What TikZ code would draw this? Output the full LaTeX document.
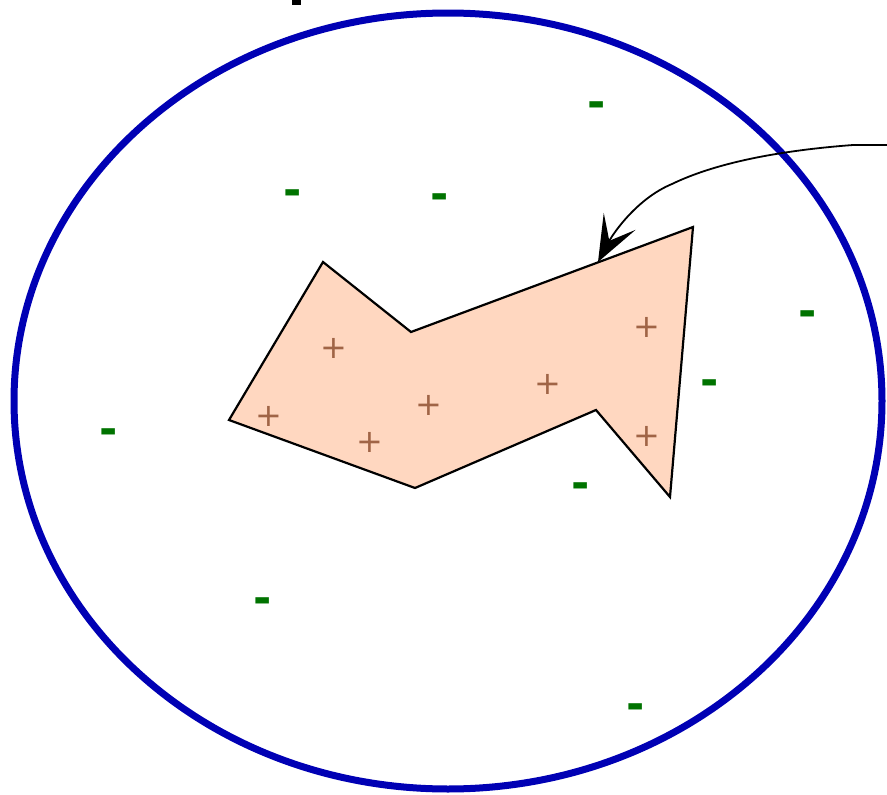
\documentclass[tikz,border=0pt]{standalone}
\usepackage{fontspec}
\setmainfont{DejaVu Sans}
\usetikzlibrary{arrows.meta}
\definecolor{ringblue}{RGB}{0,0,180}
\definecolor{peach}{RGB}{255,215,192}
\definecolor{plusbrown}{RGB}{160,100,70}
\definecolor{minusgreen}{RGB}{0,115,0}
\tikzset{
  plussign/.style={text=plusbrown,font=\fontsize{32}{32}\selectfont,inner sep=0pt},
  minussign/.style={text=minusgreen,font=\bfseries\fontsize{44}{44}\selectfont,inner sep=0pt,yshift=-3pt},
}
\begin{document}
\begin{tikzpicture}[x=1pt,y=-1pt]
\useasboundingbox (0,0) rectangle (887,795);
% cut-off fragment at top
\fill (292,0) rectangle (301,5);
% ring
\draw[ringblue,line width=7pt] (448,401) ellipse [x radius=434, y radius=388];
% region
\draw[fill=peach,line width=2.2pt,line join=miter] (229,420) -- (323,262) -- (411,332) -- (693,227) -- (670,497) -- (596,410) -- (415,488) -- cycle;
% plus signs
\foreach \x/\y [count=\i] in {334/348,269/416,370/442,429/405,548/384,647/327,647/436}
  \node[plussign] (p\i) at (\x,\y) {+};
% minus signs
\foreach \x/\y [count=\i] in {597/107,293/195,440/199,808/316,710/385,109/434,581/488,263/603,636/709}
  \node[minussign] (m\i) at (\x,\y) {-};
% arrow
\coordinate (start) at (887,145);
\coordinate (bend) at (853,145);
\coordinate (mid) at (672,184);
\coordinate (tip) at (598,262);
\draw[line width=1.8pt,-{Stealth[length=46pt,width=36pt,inset=22pt]}] (start) -- (bend) .. controls (760,152) and (705,168) .. (mid) .. controls (638,198) and (614,232) .. (tip);
\end{tikzpicture}
\end{document}
